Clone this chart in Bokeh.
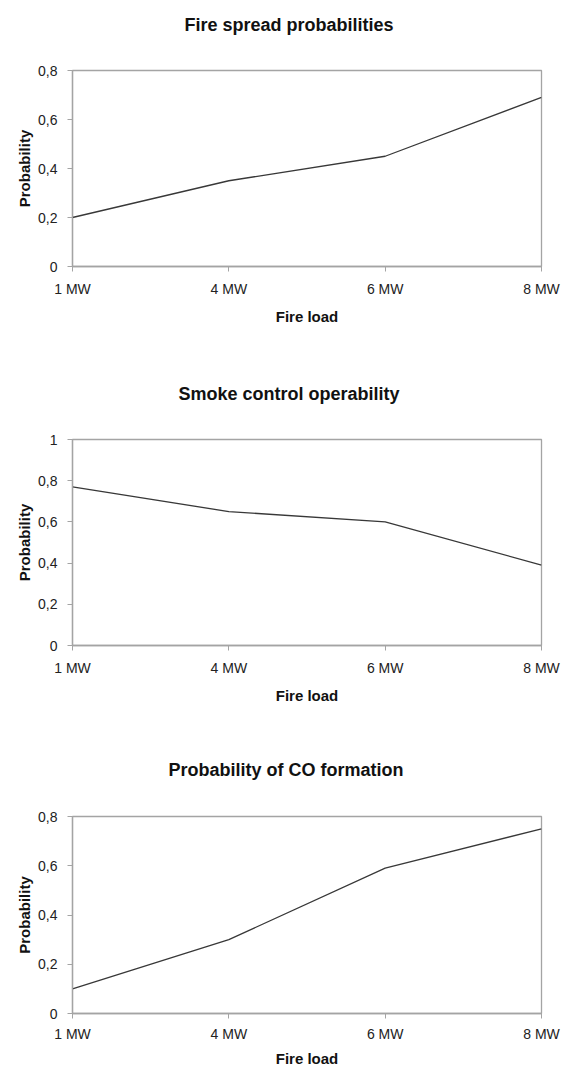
from bokeh.plotting import figure
from bokeh.layouts import column
from bokeh.models import Range1d, FixedTicker, Label
from bokeh.embed import file_html
from bokeh.resources import INLINE

fire_loads = ["1 MW", "4 MW", "6 MW", "8 MW"]
fire_spread = [0.20, 0.35, 0.45, 0.69]
smoke_control = [0.77, 0.65, 0.60, 0.39]
co_formation = [0.10, 0.30, 0.59, 0.75]

titles = ["Fire spread probabilities", "Smoke control operability", "Probability of CO formation"]
x_title = "Fire load"
y_title = "Probability"

ticks_08 = [0, 0.2, 0.4, 0.6, 0.8]
labels_08 = ["0", "0,2", "0,4", "0,6", "0,8"]
ticks_10 = [0, 0.2, 0.4, 0.6, 0.8, 1.0]
labels_10 = ["0", "0,2", "0,4", "0,6", "0,8", "1"]

FONT = "Liberation Sans"
AXIS_GRAY = "#a4a4a4"
WIDTH = 564


def make_panel(title, values, ymax, yticks, ylabels, height, borders, title_offset, title_standoff,
               label_title=False, x_standoffs=(9, 8)):
    top, bottom, left, right = borders
    xs = list(range(len(fire_loads)))
    p = figure(width=WIDTH, height=height, output_backend="svg", toolbar_location=None,
               x_range=Range1d(xs[0], xs[-1]), y_range=Range1d(0, ymax),
               min_border_top=top, min_border_bottom=bottom,
               min_border_left=left, min_border_right=right)
    p.line(xs, values, line_color="#383838", line_width=1.3)
    if label_title:
        p.add_layout(Label(x=title_offset, y=title_standoff, x_units="screen", y_units="screen",
                           text=title, text_font=FONT, text_font_size="18px",
                           text_font_style="bold", text_color="#111111",
                           text_align="left", text_baseline="middle"), "above")
    else:
        p.title.text = title
        p.title.text_font = FONT
        p.title.text_font_size = "18px"
        p.title.text_font_style = "bold"
        p.title.text_color = "#111111"
        p.title.align = "left"
        p.title.offset = title_offset
        p.title.standoff = title_standoff
    p.xgrid.visible = False
    p.ygrid.visible = False
    p.outline_line_color = AXIS_GRAY
    p.outline_line_width = 1.3
    p.background_fill_color = "white"
    p.border_fill_color = "white"

    p.xaxis.ticker = FixedTicker(ticks=xs)
    p.xaxis.major_label_overrides = {i: lab for i, lab in zip(xs, fire_loads)}
    p.yaxis.ticker = FixedTicker(ticks=yticks)
    p.yaxis.major_label_overrides = {t: lab for t, lab in zip(yticks, ylabels)}
    p.xaxis.axis_label = x_title
    p.yaxis.axis_label = y_title
    for ax in (p.xaxis[0], p.yaxis[0]):
        ax.axis_line_color = AXIS_GRAY
        ax.axis_line_width = 1.3
        ax.major_tick_line_color = AXIS_GRAY
        ax.major_tick_in = 0
        ax.major_tick_out = 5
        ax.minor_tick_line_color = None
        ax.major_label_text_font = FONT
        ax.major_label_text_font_size = "14px"
        ax.major_label_text_color = "#222222"
        ax.axis_label_text_font = FONT
        ax.axis_label_text_font_size = "15px"
        ax.axis_label_text_font_style = "bold"
        ax.axis_label_text_color = "#111111"
    p.xaxis.major_label_standoff = x_standoffs[0]
    p.xaxis.axis_label_standoff = x_standoffs[1]
    p.yaxis.major_label_standoff = 10
    p.yaxis.axis_label_standoff = 2
    return p


p1 = make_panel(titles[0], fire_spread, 0.8, ticks_08, labels_08, 345, (70, 79, 69, 23), 112, 46,
                label_title=True)
p2 = make_panel(titles[1], smoke_control, 1.0, ticks_10, labels_10, 375, (94, 75, 69, 20), 106, 72)
p3 = make_panel(titles[2], co_formation, 0.8, ticks_08, labels_08, 350, (96, 57, 72, 22), 96, 74,
                x_standoffs=(7, 5))

layout = column(p1, p2, p3, spacing=0)
open("out.html", "w").write(file_html(layout, INLINE))
